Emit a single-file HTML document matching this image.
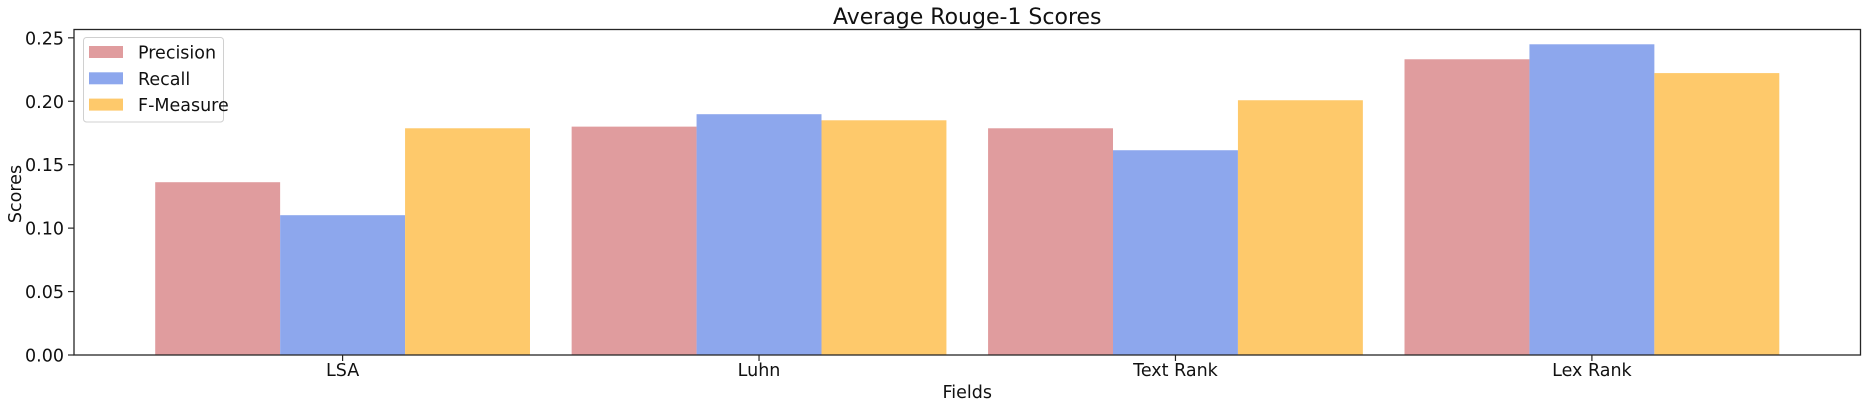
<!DOCTYPE html>
<html><head><meta charset="utf-8"><style>
body{margin:0;background:#fff;}
svg{display:block;font-family:"DejaVu Sans","Liberation Sans",sans-serif;}
</style></head><body>
<svg id="chart" width="1870" height="409" xmlns="http://www.w3.org/2000/svg"></svg>
<script>
const categories = ["LSA","Luhn","Text Rank","Lex Rank"];
const precision = [0.1362,0.1800,0.1787,0.2331];
const recall = [0.1102,0.1898,0.1614,0.2449];
const fmeasure = [0.1787,0.1850,0.2008,0.2222];
const yTicks = [0,0.05,0.10,0.15,0.20,0.25];
const seriesNames = ["Precision","Recall","F-Measure"];

const NS="http://www.w3.org/2000/svg";
const svg=document.getElementById('chart');
const L=74,R=1860.5,T=29.5,B=355;
const yMin=0,yMax=0.25656;
const xMin=-0.645,xMax=3.645;
const colors=["#e09c9e","#8da7ed","#fec96b"];
const FS=17.5;
function xs(v){return L+(v-xMin)/(xMax-xMin)*(R-L);}
function ys(v){return B-(v-yMin)/(yMax-yMin)*(B-T);}
function mk(tag,attrs,text){const e=document.createElementNS(NS,tag);for(const k in attrs)e.setAttribute(k,attrs[k]);if(text!==undefined)e.textContent=text;svg.appendChild(e);return e;}

const series=[precision,recall,fmeasure];
const bw=0.3;
series.forEach((arr,s)=>{
  arr.forEach((v,i)=>{
    const c=i+(s-1)*bw;
    const r=mk('rect',{x:xs(c-bw/2),y:ys(v),width:xs(c+bw/2)-xs(c-bw/2),height:ys(0)-ys(v),fill:colors[s]});
    
    
  });
});

const frame=mk('rect',{x:L,y:T,width:R-L,height:B-T,fill:'none',stroke:'#262626','stroke-width':1.3});



yTicks.forEach(t=>{
  const y=ys(t);
  const tk=mk('line',{x1:L-6,x2:L,y1:y,y2:y,stroke:'#262626','stroke-width':1.2});
  
  
  const tl=mk('text',{x:L-10,y:y+6.5,'text-anchor':'end','font-size':FS,fill:'#111'},t.toFixed(2));
  
  
});
categories.forEach((c,i)=>{
  const x=xs(i);
  const tk=mk('line',{x1:x,x2:x,y1:B,y2:B+6,stroke:'#262626','stroke-width':1.2});
  
  
  const tl=mk('text',{x:x,y:376,'text-anchor':'middle','font-size':FS,fill:'#111'},c);
  
  
});

const title=mk('text',{x:(L+R)/2,y:24,'text-anchor':'middle','font-size':22,fill:'#111'},'Average Rouge-1 Scores');


const xl=mk('text',{x:(L+R)/2,y:398,'text-anchor':'middle','font-size':FS,fill:'#111'},'Fields');


const yl=mk('text',{x:0,y:0,'text-anchor':'middle','font-size':FS,fill:'#111',transform:'translate(21,194) rotate(-90)'},'Scores');



const lg=mk('rect',{x:83.5,y:37.5,width:140,height:84.5,rx:3,fill:'#fff','fill-opacity':0.8,stroke:'#d0d0d0','stroke-width':1});


seriesNames.forEach((n,s)=>{
  const cy=52+s*26.3;
  const sw=mk('rect',{x:89,y:cy-6,width:34,height:12,fill:colors[s]});
  
  
  const t=mk('text',{x:138,y:cy+6.5,'font-size':FS,fill:'#111'},n);
  
  
});
</script>
</body></html>
